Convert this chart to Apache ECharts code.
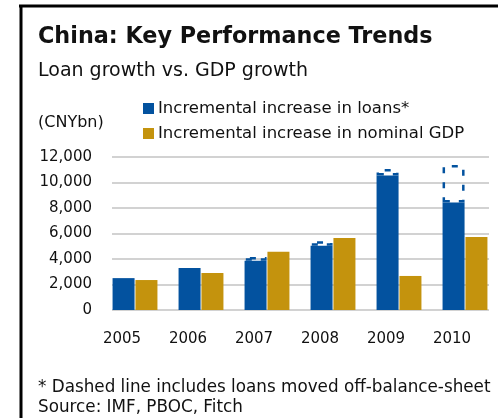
<!DOCTYPE html>
<html>
<head>
<meta charset="utf-8">
<script src="https://cdn.jsdelivr.net/npm/echarts@6/dist/echarts.min.js"></script>
<style>
  html, body { margin: 0; padding: 0; background: #fff; }
  #chart { width: 498px; height: 418px; }
</style>
</head>
<body>
<div id="chart"></div>
<script>
// Years on the category axis
const years = ['2005', '2006', '2007', '2008', '2009', '2010'];
// Incremental increase in loans (CNYbn), on balance sheet
const loans = [2500, 3300, 3870, 5030, 10550, 8430];
// Loans including those moved off-balance-sheet (CNYbn); null where none
const loansInclOffBalance = [null, null, 4150, 5400, 11050, 11370];
// Incremental increase in nominal GDP (CNYbn)
const gdp = [2350, 2900, 4560, 5650, 2670, 5730];
// Value axis ticks
const yTicks = [0, 2000, 4000, 6000, 8000, 10000, 12000];

const BLUE = '#03529f';
const GOLD = '#c4930d';
const FONT = 'DejaVu Sans';

// Height of the dashed off-balance-sheet segment stacked on the loans bar
const offBalance = loansInclOffBalance.map((v, i) => v == null ? null : v - loans[i]);

const yMin = yTicks[0];
const yMax = yTicks[yTicks.length - 1];
const yStep = yTicks[1] - yTicks[0];

const chart = echarts.init(document.getElementById('chart'), null, { renderer: 'canvas' });

function label(text, top, size, bold) {
  return {
    text, left: 38, top, padding: 0,
    textStyle: { fontFamily: FONT, fontSize: size, fontWeight: bold ? 'bold' : 'normal', color: '#111' }
  };
}

chart.setOption({
  animation: false,
  backgroundColor: '#fff',
  textStyle: { fontFamily: FONT },
  title: [
    label('China: Key Performance Trends', 26, 22.3, true),
    label('Loan growth vs. GDP growth', 62, 19),
    label('(CNYbn)', 115, 16),
    label('* Dashed line includes loans moved off-balance-sheet', 379, 16.8),
    label('Source: IMF, PBOC, Fitch', 399, 16.8)
  ],
  legend: {
    orient: 'vertical',
    left: 138, top: 95,
    itemWidth: 11, itemHeight: 11, itemGap: 8,
    icon: 'rect',
    data: ['Incremental increase in loans*', 'Incremental increase in nominal GDP'],
    textStyle: { fontFamily: FONT, fontSize: 16.5, color: '#111', padding: [0, 0, 0, -1] }
  },
  graphic: [
    { type: 'line', shape: { x1: 19, y1: 6, x2: 498, y2: 6 }, style: { stroke: '#000', lineWidth: 3 } },
    { type: 'line', shape: { x1: 21, y1: 5, x2: 21, y2: 418 }, style: { stroke: '#000', lineWidth: 3 } }
  ],
  grid: [
    // gridlines and tick labels
    { left: 112, right: 9, top: 157, bottom: 108 },
    // bars
    { left: 102, width: 397, top: 157, bottom: 108 }
  ],
  xAxis: [
    {
      gridIndex: 0, type: 'category', data: years, show: false
    },
    {
      gridIndex: 1, type: 'category', data: years,
      axisLine: { show: false }, axisTick: { show: false },
      axisLabel: {
        margin: 22, fontFamily: FONT, fontSize: 15, color: '#111',
        padding: [0, 26, 0, 0]
      }
    }
  ],
  yAxis: [
    {
      gridIndex: 0, type: 'value', min: yMin, max: yMax, interval: yStep,
      axisLine: { show: false }, axisTick: { show: false },
      axisLabel: {
        margin: 20, fontFamily: FONT, fontSize: 15, color: '#111',
        formatter: v => v.toLocaleString('en-US')
      },
      splitLine: { lineStyle: { color: '#d2d2d2', width: 2 } }
    },
    {
      gridIndex: 1, type: 'value', min: yMin, max: yMax, interval: yStep, show: false,
      splitLine: { show: false }
    }
  ],
  series: [
    {
      name: 'Incremental increase in loans*',
      type: 'bar', xAxisIndex: 1, yAxisIndex: 1, stack: 'loans',
      data: loans, barWidth: 22, barGap: '4%',
      itemStyle: { color: BLUE }
    },
    {
      name: 'Off-balance-sheet loans',
      type: 'bar', xAxisIndex: 1, yAxisIndex: 1, stack: 'loans',
      data: offBalance, barWidth: 22,
      itemStyle: {
        color: 'rgba(255,255,255,0)',
        borderColor: BLUE, borderWidth: 2.5, borderType: [6, 9]
      }
    },
    {
      name: 'Incremental increase in nominal GDP',
      type: 'bar', xAxisIndex: 1, yAxisIndex: 1,
      data: gdp, barWidth: 22,
      itemStyle: { color: GOLD }
    }
  ]
});
</script>
</body>
</html>
